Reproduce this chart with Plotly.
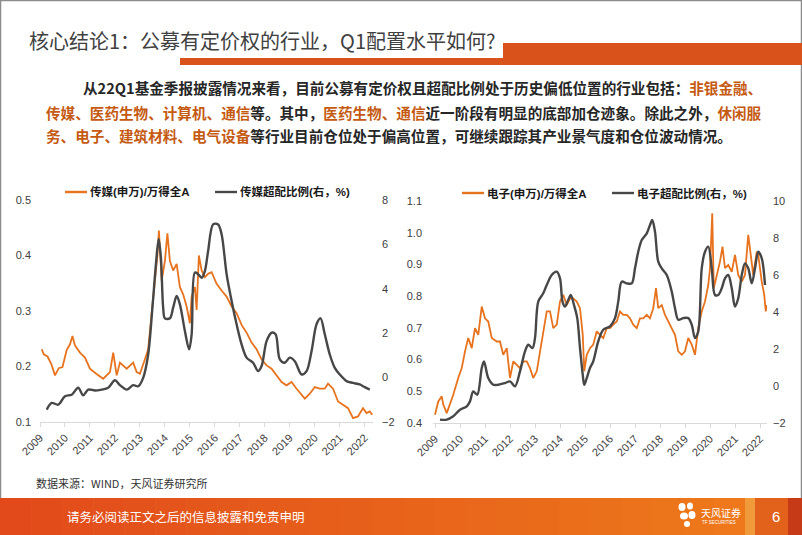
import plotly.graph_objects as go

# ---------------- data ----------------
years = list(range(2009, 2023))
year_labels = [str(y) for y in years]

media_t = [2009.07, 2009.15, 2009.3, 2009.45, 2009.6, 2009.75, 2009.9, 2010.07, 2010.2, 2010.3,
           2010.4, 2010.6, 2010.8, 2011.0, 2011.25, 2011.53, 2011.8, 2011.93, 2012.07, 2012.2,
           2012.47, 2012.73, 2012.87, 2013.0, 2013.2, 2013.33, 2013.47, 2013.6, 2013.7, 2013.76,
           2013.87, 2014.0, 2014.1, 2014.2, 2014.33, 2014.47, 2014.6, 2014.73, 2014.87, 2015.0,
           2015.07, 2015.2, 2015.27, 2015.36, 2015.47, 2015.6, 2015.73, 2015.87, 2016.07, 2016.27,
           2016.47, 2016.67, 2016.87, 2017.07, 2017.27, 2017.47, 2017.67, 2017.87, 2018.07, 2018.27,
           2018.47, 2018.67, 2018.87, 2019.07, 2019.27, 2019.47, 2019.6, 2019.8, 2020.0, 2020.2,
           2020.4, 2020.53, 2020.73, 2020.93, 2021.13, 2021.33, 2021.53, 2021.73, 2021.93, 2022.07,
           2022.2, 2022.3]
media_ratio = [0.231, 0.222, 0.218, 0.205, 0.184, 0.197, 0.199, 0.230, 0.240, 0.255,
               0.238, 0.225, 0.216, 0.196, 0.187, 0.178, 0.190, 0.225, 0.184, 0.207,
               0.196, 0.207, 0.190, 0.187, 0.213, 0.231, 0.296, 0.360, 0.400, 0.445,
               0.355, 0.390, 0.440, 0.390, 0.373, 0.385, 0.343, 0.330, 0.308, 0.278,
               0.326, 0.343, 0.302, 0.400, 0.373, 0.361, 0.367, 0.370, 0.349, 0.337,
               0.326, 0.308, 0.296, 0.275, 0.261, 0.243, 0.231, 0.213, 0.202, 0.196,
               0.184, 0.172, 0.166, 0.172, 0.160, 0.148, 0.142, 0.151, 0.163, 0.160,
               0.160, 0.169, 0.160, 0.137, 0.131, 0.125, 0.107, 0.110, 0.125, 0.116,
               0.119, 0.113]

media_over_t = [2009.27, 2009.47, 2009.73, 2010.0, 2010.27, 2010.53, 2010.73, 2010.93, 2011.2, 2011.47,
                2011.73, 2012.0, 2012.2, 2012.47, 2012.73, 2012.93, 2013.13, 2013.33, 2013.5, 2013.64,
                2013.75, 2013.84, 2013.93, 2014.0, 2014.2, 2014.33, 2014.47, 2014.6, 2014.8, 2014.97,
                2015.07, 2015.2, 2015.33, 2015.47, 2015.6, 2015.73, 2015.93, 2016.13, 2016.27, 2016.47,
                2016.67, 2016.87, 2017.07, 2017.27, 2017.53, 2017.73, 2017.87, 2018.07, 2018.27, 2018.43,
                2018.6, 2018.8, 2019.0, 2019.2, 2019.47, 2019.67, 2019.87, 2020.07, 2020.23, 2020.4,
                2020.6, 2020.8, 2021.0, 2021.27, 2021.53, 2021.8, 2022.0, 2022.2]
media_over = [-1.44, -1.14, -1.22, -0.84, -0.77, -0.46, -0.80, -0.54, -0.58, -0.54,
              -0.46, -0.12, -0.34, -0.54, -0.34, -0.39, -0.01, 1.04, 3.15, 5.10,
              6.24, 5.40, 3.15, 2.67, 2.67, 3.15, 3.68, 3.30, 2.10, 1.27,
              1.95, 4.73, 4.66, 4.50, 4.80, 5.70, 6.90, 6.90, 6.46, 4.66,
              3.45, 2.40, 1.50, 0.90, 0.67, 0.29, 0.52, 1.64, 2.02, 1.95,
              0.82, 0.67, 0.90, 0.74, 0.14, 0.29, 1.19, 2.40, 2.67, 1.95,
              1.04, 0.44, 0.14, -0.16, -0.24, -0.31, -0.43, -0.54]

elec_t = [2009.0, 2009.13, 2009.27, 2009.33, 2009.47, 2009.6, 2009.73, 2009.93, 2010.07, 2010.2,
          2010.33, 2010.47, 2010.6, 2010.73, 2010.87, 2011.0, 2011.13, 2011.27, 2011.47, 2011.6,
          2011.73, 2011.87, 2012.0, 2012.13, 2012.27, 2012.4, 2012.53, 2012.67, 2012.8, 2012.93,
          2013.07, 2013.2, 2013.33, 2013.47, 2013.6, 2013.73, 2013.87, 2014.0, 2014.13, 2014.27,
          2014.4, 2014.53, 2014.67, 2014.8, 2014.91, 2014.97, 2015.07, 2015.2, 2015.33, 2015.47,
          2015.6, 2015.73, 2015.87, 2016.0, 2016.13, 2016.27, 2016.4, 2016.53, 2016.67, 2016.8,
          2016.93, 2017.07, 2017.2, 2017.33, 2017.47, 2017.6, 2017.73, 2017.84, 2017.93, 2018.07,
          2018.2, 2018.33, 2018.47, 2018.6, 2018.73, 2018.87, 2019.0, 2019.13, 2019.27, 2019.4,
          2019.53, 2019.67, 2019.8, 2019.93, 2020.0, 2020.09, 2020.15, 2020.27, 2020.4, 2020.5,
          2020.6, 2020.73, 2020.87, 2021.0, 2021.13, 2021.27, 2021.4, 2021.53, 2021.63, 2021.73,
          2021.87, 2021.93, 2022.07, 2022.17, 2022.23, 2022.27]
elec_ratio = [0.426, 0.468, 0.484, 0.458, 0.431, 0.458, 0.489, 0.542, 0.573, 0.626,
              0.668, 0.636, 0.699, 0.678, 0.767, 0.730, 0.720, 0.668, 0.657, 0.657,
              0.615, 0.636, 0.542, 0.594, 0.584, 0.573, 0.594, 0.594, 0.573, 0.542,
              0.563, 0.626, 0.678, 0.752, 0.752, 0.699, 0.710, 0.783, 0.804, 0.772,
              0.793, 0.793, 0.783, 0.762, 0.678, 0.563, 0.615, 0.636, 0.647, 0.689,
              0.678, 0.668, 0.699, 0.699, 0.710, 0.720, 0.752, 0.741, 0.741, 0.730,
              0.710, 0.699, 0.730, 0.730, 0.741, 0.730, 0.762, 0.825, 0.762, 0.772,
              0.741, 0.720, 0.699, 0.678, 0.626, 0.615, 0.626, 0.668, 0.647, 0.615,
              0.699, 0.752, 0.783, 0.835, 0.888, 1.061, 0.825, 0.867, 0.909, 0.956,
              0.888, 0.898, 0.877, 0.930, 0.867, 0.846, 0.867, 0.993, 0.920, 0.867,
              0.940, 0.930, 0.846, 0.804, 0.752, 0.772]

elec_over_t = [2009.2, 2009.47, 2009.73, 2010.0, 2010.27, 2010.4, 2010.53, 2010.69, 2010.87, 2010.96,
               2011.13, 2011.33, 2011.53, 2011.8, 2012.0, 2012.2, 2012.4, 2012.6, 2012.73, 2012.9,
               2013.0, 2013.13, 2013.33, 2013.47, 2013.67, 2013.87, 2014.0, 2014.1, 2014.2, 2014.33,
               2014.43, 2014.56, 2014.69, 2014.8, 2014.91, 2014.97, 2015.07, 2015.2, 2015.33, 2015.53,
               2015.73, 2016.0, 2016.2, 2016.33, 2016.47, 2016.67, 2016.87, 2017.0, 2017.13, 2017.27,
               2017.47, 2017.6, 2017.69, 2017.8, 2017.93, 2018.07, 2018.27, 2018.47, 2018.6, 2018.73,
               2018.93, 2019.13, 2019.27, 2019.4, 2019.53, 2019.67, 2019.8, 2019.93, 2020.07, 2020.2,
               2020.33, 2020.47, 2020.6, 2020.73, 2020.87, 2021.0, 2021.13, 2021.27, 2021.4, 2021.53,
               2021.67, 2021.8, 2021.93, 2022.07, 2022.2]
elec_over = [-1.82, -1.82, -1.64, -1.28, -1.10, -0.83, -0.29, -0.47, 0.97, 1.33,
             0.43, 0.07, 0.07, 0.16, 0.25, -0.02, 0.79, 1.87, 2.23, 2.05,
             2.59, 4.56, 5.01, 5.46, 6.00, 6.18, 5.82, 4.56, 4.29, 4.65,
             4.92, 4.38, 3.67, 2.05, 0.61, 0.07, 0.43, 0.97, 1.33, 2.41,
             3.04, 3.22, 3.67, 4.56, 5.64, 5.55, 5.55, 6.36, 7.26, 7.89,
             8.25, 8.70, 8.97, 8.34, 6.72, 6.36, 6.00, 5.10, 4.20, 3.58,
             3.67, 3.67, 3.31, 2.59, 2.95, 6.36, 7.26, 7.53, 6.36, 4.92,
             4.92, 5.28, 5.82, 6.00, 5.28, 4.29, 4.74, 6.00, 6.63, 6.36,
             5.55, 6.36, 7.26, 6.90, 5.46]

left_ticks = [0.1, 0.2, 0.3, 0.4, 0.5]
left_tick_text = ["0.1", "0.2", "0.3", "0.4", "0.5"]
left_r_ticks = [-2, 0, 2, 4, 6, 8]
right_ticks = [0.4, 0.5, 0.6, 0.7, 0.8, 0.9, 1.0, 1.1]
right_tick_text = ["0.4", "0.5", "0.6", "0.7", "0.8", "0.9", "1.0", "1.1"]
right_r_ticks = [-2, 0, 2, 4, 6, 8, 10]

# ---------------- styling ----------------
W, H = 802, 535
ORANGE = "#E8731E"
GRAY = "#474747"
HL = "#C55A11"
CJK = "Noto Sans CJK SC"
NUM = "Liberation Sans, Arial, Noto Sans CJK SC"


def px(x):
    return x / W


def py(y):
    return 1 - y / H


fig = go.Figure()
fig.add_trace(go.Scatter(x=media_t, y=media_ratio, mode="lines", line=dict(color=ORANGE, width=1.8),
                         xaxis="x", yaxis="y", showlegend=False))
fig.add_trace(go.Scatter(x=media_over_t, y=media_over, mode="lines",
                         line=dict(color=GRAY, width=2.4, shape="spline", smoothing=0.9),
                         xaxis="x", yaxis="y2", showlegend=False))
fig.add_trace(go.Scatter(x=elec_t, y=elec_ratio, mode="lines", line=dict(color=ORANGE, width=1.8),
                         xaxis="x2", yaxis="y3", showlegend=False))
fig.add_trace(go.Scatter(x=elec_over_t, y=elec_over, mode="lines",
                         line=dict(color=GRAY, width=2.4, shape="spline", smoothing=0.9),
                         xaxis="x2", yaxis="y4", showlegend=False))

xcommon = dict(tickmode="array", tickvals=years, ticktext=year_labels, tickangle=-45,
               showline=True, linecolor="#D9D9D9", linewidth=1, ticks="outside", ticklen=4,
               tickcolor="#D9D9D9", showgrid=False, zeroline=False, automargin=False,
               tickfont=dict(family=NUM, size=11, color="#404040"))
ycommon = dict(showgrid=False, zeroline=False, showline=False, ticks="", automargin=False,
               tickfont=dict(family=NUM, size=11, color="#404040"))

fig.update_layout(
    width=W, height=H, margin=dict(l=0, r=0, t=0, b=0, pad=0, autoexpand=False),
    paper_bgcolor="white", plot_bgcolor="white", showlegend=False,
    xaxis=dict(domain=[px(40), px(373)], range=[2009, 2022.33], anchor="y", **xcommon),
    yaxis=dict(domain=[py(422), py(200)], range=[0.1, 0.5], anchor="x",
               tickvals=left_ticks, ticktext=left_tick_text, ticklabelstandoff=8, **ycommon),
    yaxis2=dict(domain=[py(422), py(200)], range=[-2, 8], anchor="x", overlaying="y", side="right",
                tickvals=left_r_ticks, ticklabelstandoff=8, **ycommon),
    xaxis2=dict(domain=[px(433), px(767)], range=[2008.92, 2022.28], anchor="y3", **xcommon),
    yaxis3=dict(domain=[py(423), py(201)], range=[0.4, 1.1], anchor="x2",
                tickvals=right_ticks, ticktext=right_tick_text, ticklabelstandoff=10, **ycommon),
    yaxis4=dict(domain=[py(423), py(201)], range=[-2, 10], anchor="x2", overlaying="y3", side="right",
                tickvals=right_r_ticks, ticklabelstandoff=5, **ycommon),
)

shapes = []
annos = []

# slide border
shapes.append(dict(type="rect", xref="paper", yref="paper", x0=px(0.5), x1=px(801.5), y0=py(534.5), y1=py(0.5),
                   line=dict(color="#8C8C8C", width=1.5), fillcolor="rgba(0,0,0,0)", layer="above"))

# header bars
shapes.append(dict(type="rect", xref="paper", yref="paper", x0=px(180), x1=px(802), y0=py(65), y1=py(58),
                   line=dict(width=0), fillcolor="#DA521B"))
shapes.append(dict(type="rect", xref="paper", yref="paper", x0=px(503), x1=px(802), y0=py(65), y1=py(43),
                   line=dict(width=0), fillcolor="#DA521B"))

# title
annos.append(dict(xref="paper", yref="paper", x=px(27), y=py(40), xanchor="left", yanchor="middle",
                  showarrow=False, text="核心结论1：公募有定价权的行业，Q1配置水平如何?",
                  font=dict(family=CJK, size=20, color="#404040")))

# body paragraph
def hl(s):
    return f'<span style="color:{HL}">{s}</span>'

body_lines = [
    (81, 88, "从22Q1基金季报披露情况来看，目前公募有定价权且超配比例处于历史偏低位置的行业包括：" + hl("非银金融、")),
    (44, 112, hl("传媒、医药生物、计算机、通信") + "等。其中，" + hl("医药生物、通信")
     + "近一阶段有明显的底部加仓迹象。除此之外，" + hl("休闲服")),
    (44, 136, hl("务、电子、建筑材料、电气设备") + "等行业目前仓位处于偏高位置，可继续跟踪其产业景气度和仓位波动情况。"),
]
for x0, y0, t in body_lines:
    annos.append(dict(xref="paper", yref="paper", x=px(x0), y=py(y0), xanchor="left", yanchor="middle",
                      showarrow=False, text="<b>" + t + "</b>",
                      font=dict(family=CJK, size=14.6, color="#262626")))

# chart legends
legends = [
    (65, 192, ORANGE, "传媒(申万)/万得全A"),
    (215, 192, GRAY, "传媒超配比例(右，%)"),
    (462, 193, ORANGE, "电子(申万)/万得全A"),
    (612, 193, GRAY, "电子超配比例(右，%)"),
]
for lx, ly, c, t in legends:
    shapes.append(dict(type="line", xref="paper", yref="paper", x0=px(lx), x1=px(lx + 22), y0=py(ly), y1=py(ly),
                       line=dict(color=c, width=2.4)))
    annos.append(dict(xref="paper", yref="paper", x=px(lx + 23), y=py(ly), xanchor="left", yanchor="middle",
                      showarrow=False, text="<b>" + t + "</b>",
                      font=dict(family=NUM, size=11.5, color="#1a1a1a")))

# source
annos.append(dict(xref="paper", yref="paper", x=px(34), y=py(483), xanchor="left", yanchor="middle",
                  showarrow=False, text="数据来源：WIND，天风证券研究所",
                  font=dict(family=CJK, size=11, color="#333333")))

# footer band (gradient approximation)
c0 = (0xE2, 0x4A, 0x1C)
c1 = (0xEE, 0x78, 0x1B)
n = 24
x_end = 745
for i in range(n):
    f = i / (n - 1)
    col = "rgb(%d,%d,%d)" % tuple(int(c0[k] + (c1[k] - c0[k]) * f) for k in range(3))
    shapes.append(dict(type="rect", xref="paper", yref="paper",
                       x0=px(x_end * i / n), x1=px(x_end * (i + 1) / n + 0.6),
                       y0=py(535), y1=py(498), line=dict(width=0), fillcolor=col))
shapes.append(dict(type="rect", xref="paper", yref="paper", x0=px(745), x1=px(755), y0=py(535), y1=py(498),
                   line=dict(width=0), fillcolor="#F09A3C"))
shapes.append(dict(type="rect", xref="paper", yref="paper", x0=px(755), x1=px(788), y0=py(535), y1=py(498),
                   line=dict(width=0), fillcolor="#E2621C"))
shapes.append(dict(type="rect", xref="paper", yref="paper", x0=px(788), x1=px(802), y0=py(535), y1=py(498),
                   line=dict(width=0), fillcolor="#C73A17"))

annos.append(dict(xref="paper", yref="paper", x=px(65), y=py(516), xanchor="left", yanchor="middle",
                  showarrow=False, text="请务必阅读正文之后的信息披露和免责申明",
                  font=dict(family=CJK, size=12.5, color="white")))
annos.append(dict(xref="paper", yref="paper", x=px(776), y=py(516), xanchor="center", yanchor="middle",
                  showarrow=False, text="6", font=dict(family=NUM, size=15, color="white")))

# logo (flower + text)
petals = [(682, 507, 3.5, 4), (690, 506, 3, 3.5), (684, 516, 4, 3.5), (692, 515, 3.5, 4), (687, 524, 3, 3)]
for cx, cy, rx, ry in petals:
    shapes.append(dict(type="circle", xref="paper", yref="paper", x0=px(cx - rx), x1=px(cx + rx),
                       y0=py(cy + ry), y1=py(cy - ry), line=dict(width=0), fillcolor="white"))
annos.append(dict(xref="paper", yref="paper", x=px(699), y=py(512), xanchor="left", yanchor="middle",
                  showarrow=False, text="天风证券", font=dict(family=CJK, size=10, color="white")))
annos.append(dict(xref="paper", yref="paper", x=px(700), y=py(522), xanchor="left", yanchor="middle",
                  showarrow=False, text="TF SECURITIES", font=dict(family=NUM, size=4.5, color="white")))

fig.update_layout(shapes=shapes, annotations=annos)
fig.write_html("out.html", config={"displayModeBar": False, "staticPlot": True},
               post_script="document.body.style.margin='0px';document.body.style.overflow='hidden';")
